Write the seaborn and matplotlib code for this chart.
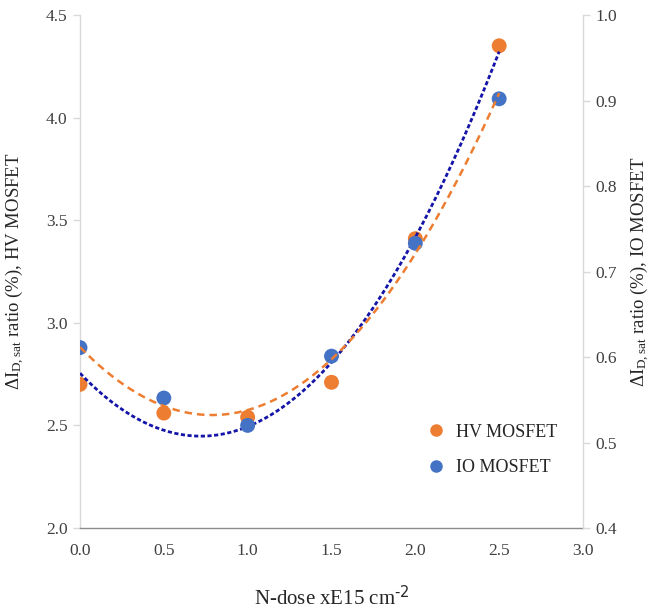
import numpy as np
import pandas as pd
import matplotlib
matplotlib.use("Agg")
import matplotlib.pyplot as plt
import seaborn as sns
from matplotlib.lines import Line2D

# Data
dose = [0.0, 0.5, 1.0, 1.5, 2.0, 2.5]
hv_ratio = [2.70, 2.56, 2.54, 2.71, 3.41, 4.35]
io_ratio = [0.611, 0.552, 0.520, 0.601, 0.733, 0.902]
x_ticks = [0.0, 0.5, 1.0, 1.5, 2.0, 2.5, 3.0]
left_ticks = [2.0, 2.5, 3.0, 3.5, 4.0, 4.5]
right_ticks = [0.4, 0.5, 0.6, 0.7, 0.8, 0.9, 1.0]

sns.set_style("white")
plt.rcParams['font.family'] = ['Liberation Serif', 'DejaVu Serif']
plt.rcParams['mathtext.default'] = 'regular'

ORANGE = '#ED7D31'
BLUE = '#4472C4'
DARKBLUE = '#1414A8'
GRID = '#D9D9D9'

fig = plt.figure(figsize=(6.54, 6.08), dpi=100)
ax = fig.add_axes([80/654, 80/608, 503/654, 513/608])
ax2 = ax.twinx()

df = pd.DataFrame({'dose': dose, 'hv': hv_ratio, 'io': io_ratio})

# Quadratic trendlines
xs = np.linspace(min(dose), max(dose), 200)
hv_fit = np.polyval(np.polyfit(dose, hv_ratio, 2), xs)
io_fit = np.polyval(np.polyfit(dose, io_ratio, 2), xs)

sns.scatterplot(data=df, x='dose', y='hv', ax=ax, color=ORANGE, s=115,
                edgecolor='none', zorder=3, legend=False)
sns.lineplot(x=xs, y=hv_fit, ax=ax, color=DARKBLUE, lw=2.0,
             dashes=False, zorder=4)
ax.lines[-1].set_dashes((1.5, 0.9))

sns.scatterplot(data=df, x='dose', y='io', ax=ax2, color=BLUE, s=115,
                edgecolor='none', zorder=3, legend=False)
sns.lineplot(x=xs, y=io_fit, ax=ax2, color=ORANGE, lw=1.8,
             dashes=False, zorder=4)
ax2.lines[-1].set_dashes((3.0, 2.0))

ax.set_xlim(0, 3.0)
ax.set_ylim(2.0, 4.5)
ax2.set_ylim(0.4, 1.0)
ax.set_xticks(x_ticks)
ax.set_xticklabels([f"{v:.1f}" for v in x_ticks])
ax.set_yticks(left_ticks)
ax.set_yticklabels([f"{v:.1f}" for v in left_ticks])
ax2.set_yticks(right_ticks)
ax2.set_yticklabels([f"{v:.1f}" for v in right_ticks])

for a in (ax, ax2):
    a.spines['top'].set_visible(False)
    for s in ('left', 'right', 'bottom'):
        a.spines[s].set_color(GRID)
        a.spines[s].set_linewidth(1.0)
    a.tick_params(axis='both', which='major', labelsize=12.5, colors='#404040',
                  length=5, width=1.0, direction='out', color=GRID, pad=4)
ax.spines['bottom'].set_color('#8C8C8C')
ax.tick_params(axis='x', color='#A6A6A6', pad=6)
ax2.spines['bottom'].set_visible(False)
ax2.spines['left'].set_visible(False)
ax.spines['right'].set_visible(False)

ax.set_xlabel("N-dose xE15 cm$^{\\text{-2}}$", fontsize=15, color='#262626')
ax.xaxis.set_label_coords(0.5, -0.111)
ax.set_ylabel("ΔI$_{D,sat}$ ratio (%), HV MOSFET", fontsize=13.5, color='#262626')
ax.yaxis.set_label_coords(-0.108, 0.5)
ax2.set_ylabel("ΔI$_{D,sat}$ ratio (%), IO MOSFET", fontsize=13.5, color='#262626',
               rotation=90)
ax2.yaxis.set_label_coords(1.089, 0.5)

handles = [Line2D([], [], marker='o', ls='none', color=ORANGE, markersize=8),
           Line2D([], [], marker='o', ls='none', color=BLUE, markersize=8)]
ax.legend(handles, ['HV MOSFET', 'IO MOSFET'], loc='lower left',
          bbox_to_anchor=(0.64, 0.07), frameon=False, fontsize=13,
          handletextpad=0.1, labelspacing=1.0, labelcolor='#262626')

fig.savefig('out.png', dpi=100)
